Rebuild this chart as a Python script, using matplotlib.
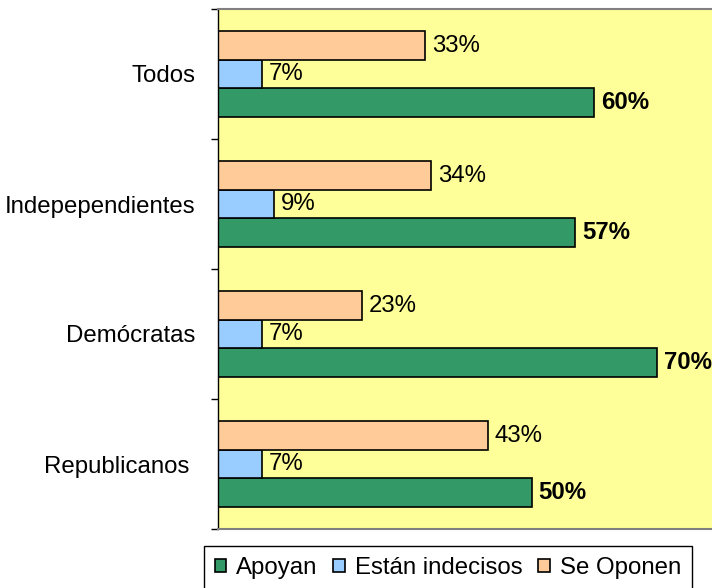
import matplotlib
matplotlib.use("Agg")
import matplotlib.pyplot as plt
import numpy as np

plt.rcParams['font.family'] = ['Liberation Sans', 'DejaVu Sans']

categories = ['Todos', 'Indepependientes', 'Demócratas', 'Republicanos ']
apoyan = [60, 57, 70, 50]
indecisos = [7, 9, 7, 7]
oponen = [33, 34, 23, 43]
series_names = ['Apoyan', 'Están indecisos', 'Se Oponen']

col_apoyan = '#339966'
col_indecisos = '#99CCFF'
col_oponen = '#FFCC99'

fig = plt.figure(figsize=(7.12, 5.88), dpi=100)
# plot area runs past the right edge of the picture
ax = fig.add_axes([218 / 712, 59 / 588, 520 / 712, 520 / 588])
ax.set_facecolor('#FFFF99')

n = len(categories)
ypos = np.arange(n)[::-1]
h = 0.219

b_ap = ax.barh(ypos - h, apoyan, height=h, color=col_apoyan, edgecolor='black', linewidth=1.2, label=series_names[0])
b_in = ax.barh(ypos, indecisos, height=h, color=col_indecisos, edgecolor='black', linewidth=1.2, label=series_names[1])
b_op = ax.barh(ypos + h, oponen, height=h, color=col_oponen, edgecolor='black', linewidth=1.2, label=series_names[2])

fs = 17.3
for bars, vals, wt in [(b_ap, apoyan, 'bold'), (b_in, indecisos, 'normal'), (b_op, oponen, 'normal')]:
    for bar, v in zip(bars, vals):
        ax.annotate(f'{v}%', (v, bar.get_y() + bar.get_height() / 2),
                    xytext=(5, 0), textcoords='offset points',
                    va='center', ha='left', fontsize=fs, fontweight=wt,
                    annotation_clip=False)

ax.set_xlim(0, 520 / 6.27)
ax.set_ylim(-0.5, n - 0.5)
ax.set_xticks([])
ax.set_yticks(ypos)
ax.set_yticklabels(categories, fontsize=fs)
ax.set_yticks(np.arange(n + 1) - 0.5, minor=True)
ax.tick_params(axis='y', which='major', length=0, pad=16)
ax.tick_params(axis='y', which='minor', length=5, width=1, color='black')

for s in ['top', 'bottom', 'right']:
    ax.spines[s].set_color('#808080')
    ax.spines[s].set_linewidth(1.5)
ax.spines['left'].set_color('black')
ax.spines['left'].set_linewidth(1)

handles = [b_ap, b_in, b_op]
leg = fig.legend(handles, series_names, loc='upper left',
                 bbox_to_anchor=(204 / 712, 1 - 546 / 588), ncol=3,
                 fontsize=fs, frameon=True, fancybox=False, shadow=False,
                 edgecolor='black', framealpha=1, borderpad=0.45,
                 handlelength=0.48, handleheight=0.48, handletextpad=0.42,
                 columnspacing=0.65, borderaxespad=0)
leg.get_frame().set_linewidth(1)

fig.savefig('out.png', dpi=100)
